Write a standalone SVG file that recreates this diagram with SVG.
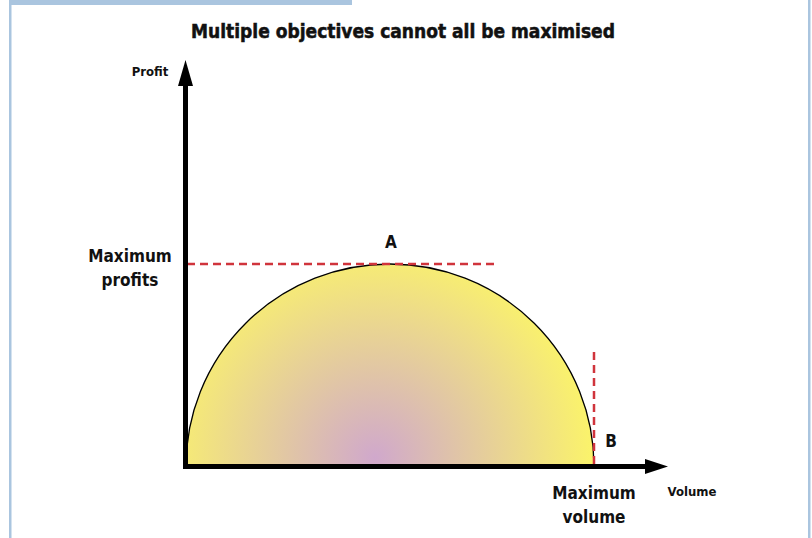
<svg xmlns="http://www.w3.org/2000/svg" width="812" height="538" viewBox="0 0 812 538">
<style>
.t{font-family:"DejaVu Sans Condensed","Liberation Sans",Arial,sans-serif;font-weight:bold;fill:#111;text-anchor:middle}
.dash{stroke:#d0343c;stroke-width:2.5;stroke-dasharray:8 5;fill:none}
.axis{stroke:#000;stroke-width:5;fill:none}
</style>
<defs>
<radialGradient id="g" gradientUnits="userSpaceOnUse" cx="375" cy="458" r="215">
<stop offset="0" stop-color="#d0a8cc"/>
<stop offset="1" stop-color="#faf26c"/>
</radialGradient>
</defs>
<rect x="0" y="0" width="812" height="538" fill="#fff"/>
<g id="frame">
<rect x="9" y="0" width="343" height="5" fill="#aac5df"/>
<rect x="9" y="0" width="2.5" height="538" fill="#aac5df"/>
<rect x="808" y="0" width="2.5" height="538" fill="#aac5df"/>
</g>
<g id="title"><text class="t" x="403" y="38" font-size="19" stroke="#111" stroke-width="0.5">Multiple objectives cannot all be maximised</text></g>
<g id="curve"><path d="M186,466 A204,202 0 0 1 594,466 Z" fill="url(#g)" stroke="#000" stroke-width="1.3"/></g>
<g id="connectors">
<line class="dash" x1="187" y1="264" x2="496" y2="264"/>
<line class="dash" x1="594" y1="352" x2="594" y2="466"/>
<line class="axis" x1="185.5" y1="468.5" x2="185.5" y2="84"/>
<polygon points="185.5,60 178,86 193,86" fill="#000"/>
<line class="axis" x1="183" y1="466.5" x2="646" y2="466.5"/>
<polygon points="668,466.5 645,459 645,474" fill="#000"/>
</g>
<g id="labels">
<text class="t" x="150" y="76" font-size="13">Profit</text>
<text class="t" x="130" y="262" font-size="17">Maximum</text>
<text class="t" x="130" y="286" font-size="17">profits</text>
<text class="t" x="391" y="248" font-size="17">A</text>
<text class="t" x="611" y="447" font-size="17">B</text>
<text class="t" x="594" y="499" font-size="17">Maximum</text>
<text class="t" x="594" y="523" font-size="17">volume</text>
<text class="t" x="692" y="496" font-size="13">Volume</text>
</g>
</svg>
